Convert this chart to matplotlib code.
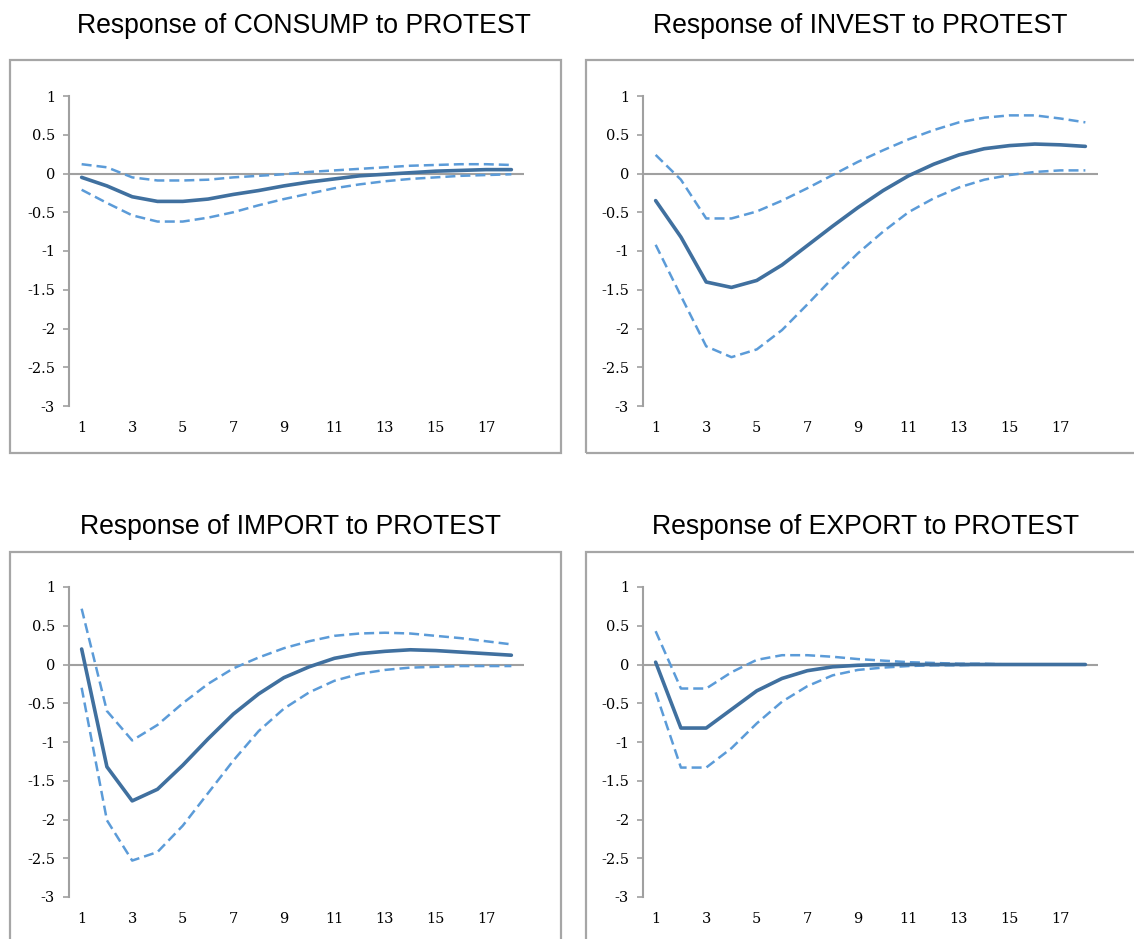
import matplotlib
matplotlib.use("Agg")
import matplotlib.pyplot as plt
from matplotlib.patches import Rectangle

W, H = 1134, 939

periods = list(range(1, 19))
tick_periods = [1, 3, 5, 7, 9, 11, 13, 15, 17]
y_ticks = [1, 0.5, 0, -0.5, -1, -1.5, -2, -2.5, -3]
y_labels = ["1", "0.5", "0", "-0.5", "-1", "-1.5", "-2", "-2.5", "-3"]

titles = ["Response of CONSUMP to PROTEST", "Response of INVEST to PROTEST",
          "Response of IMPORT to PROTEST", "Response of EXPORT to PROTEST"]

consump = [-0.05, -0.16, -0.30, -0.36, -0.36, -0.33, -0.27, -0.22, -0.16,
           -0.11, -0.07, -0.03, -0.01, 0.01, 0.03, 0.04, 0.05, 0.05]
consump_hi = [0.12, 0.08, -0.05, -0.09, -0.09, -0.08, -0.05, -0.03, -0.01,
              0.02, 0.04, 0.06, 0.08, 0.10, 0.11, 0.12, 0.12, 0.11]
consump_lo = [-0.21, -0.38, -0.54, -0.62, -0.62, -0.57, -0.50, -0.41, -0.33,
              -0.26, -0.19, -0.14, -0.10, -0.07, -0.05, -0.03, -0.02, -0.01]

invest = [-0.35, -0.82, -1.40, -1.47, -1.38, -1.18, -0.93, -0.68, -0.44,
          -0.22, -0.03, 0.12, 0.24, 0.32, 0.36, 0.38, 0.37, 0.35]
invest_hi = [0.24, -0.08, -0.58, -0.58, -0.49, -0.35, -0.19, -0.02, 0.15,
             0.30, 0.44, 0.56, 0.66, 0.72, 0.75, 0.75, 0.71, 0.66]
invest_lo = [-0.92, -1.58, -2.23, -2.37, -2.27, -2.02, -1.69, -1.35, -1.03,
             -0.75, -0.50, -0.32, -0.18, -0.08, -0.02, 0.02, 0.04, 0.04]

imports = [0.20, -1.32, -1.76, -1.61, -1.30, -0.96, -0.64, -0.38, -0.17,
           -0.03, 0.08, 0.14, 0.17, 0.19, 0.18, 0.16, 0.14, 0.12]
imports_hi = [0.72, -0.60, -0.98, -0.78, -0.50, -0.25, -0.05, 0.09, 0.21,
              0.30, 0.37, 0.40, 0.41, 0.40, 0.37, 0.34, 0.30, 0.26]
imports_lo = [-0.30, -2.01, -2.53, -2.42, -2.08, -1.66, -1.24, -0.86, -0.57,
              -0.36, -0.21, -0.12, -0.07, -0.04, -0.03, -0.02, -0.02, -0.02]

exports = [0.03, -0.82, -0.82, -0.58, -0.34, -0.18, -0.08, -0.03, -0.01,
           0.0, 0.0, 0.0, 0.0, 0.0, 0.0, 0.0, 0.0, 0.0]
exports_hi = [0.43, -0.31, -0.31, -0.10, 0.06, 0.12, 0.12, 0.10, 0.07,
              0.05, 0.03, 0.02, 0.01, 0.01, 0.0, 0.0, 0.0, 0.0]
exports_lo = [-0.36, -1.33, -1.33, -1.08, -0.76, -0.48, -0.28, -0.14, -0.07,
              -0.04, -0.02, -0.01, -0.01, 0.0, 0.0, 0.0, 0.0, 0.0]

series = [(consump, consump_lo, consump_hi), (invest, invest_lo, invest_hi),
          (imports, imports_lo, imports_hi), (exports, exports_lo, exports_hi)]

# pixel layout of each panel: box left, box top, axis left, axis top, title centre x, title baseline
panels = [(10, 60, 69, 96, 304, 33),
          (586, 60, 643, 96, 860, 33),
          (10, 552, 69, 587, 291, 534),
          (586, 552, 643, 587, 866, 534)]
box_w, box_h = 551, 393
ax_w, ax_h = 455, 310

solid_col = "#40709f"
band_col = "#5b9bd8"
grey = "#a0a0a0"


def fx(px):
    return px / W


def fy(py):
    return 1 - py / H


def main():
    fig = plt.figure(figsize=(W / 100, H / 100), dpi=100)
    fig.patch.set_facecolor("white")

    for (bx, by, axl, axt, tx, ty), title, (mid, lo, hi) in zip(panels, titles, series):
        fig.patches.append(Rectangle((fx(bx), fy(by + box_h)), fx(box_w), box_h / H,
                                     transform=fig.transFigure, fill=False,
                                     edgecolor="#a6a6a6", linewidth=1.6))
        fig.text(fx(tx), fy(ty), title, ha="center", va="baseline",
                 fontsize=19.2, family="Liberation Sans", color="black")

        ax = fig.add_axes([fx(axl), fy(axt + ax_h), fx(ax_w), ax_h / H])
        ax.set_xlim(0.5, 18.5)
        ax.set_ylim(-3, 1)
        ax.axhline(0, color=grey, linewidth=1.5, zorder=1)
        ax.plot(periods, hi, color=band_col, linewidth=1.8, dashes=(4, 2), zorder=2)
        ax.plot(periods, lo, color=band_col, linewidth=1.8, dashes=(4, 2), zorder=2)
        ax.plot(periods, mid, color=solid_col, linewidth=2.6, zorder=3,
                solid_capstyle="round", solid_joinstyle="round")

        for side in ["top", "right", "bottom"]:
            ax.spines[side].set_visible(False)
        ax.spines["left"].set_color(grey)
        ax.spines["left"].set_linewidth(1.5)
        ax.set_yticks(y_ticks)
        ax.set_yticklabels(y_labels)
        ax.set_xticks(tick_periods)
        ax.set_xticklabels([str(p) for p in tick_periods])
        ax.tick_params(axis="y", direction="out", length=4, width=1.2, color=grey, pad=6)
        ax.tick_params(axis="x", length=0, pad=11)
        for lab in ax.get_xticklabels() + ax.get_yticklabels():
            lab.set_family("DejaVu Serif")
            lab.set_fontsize(10.5)
        ax.patch.set_alpha(0)

    fig.savefig("out.png", dpi=100)


if __name__ == "__main__":
    main()
